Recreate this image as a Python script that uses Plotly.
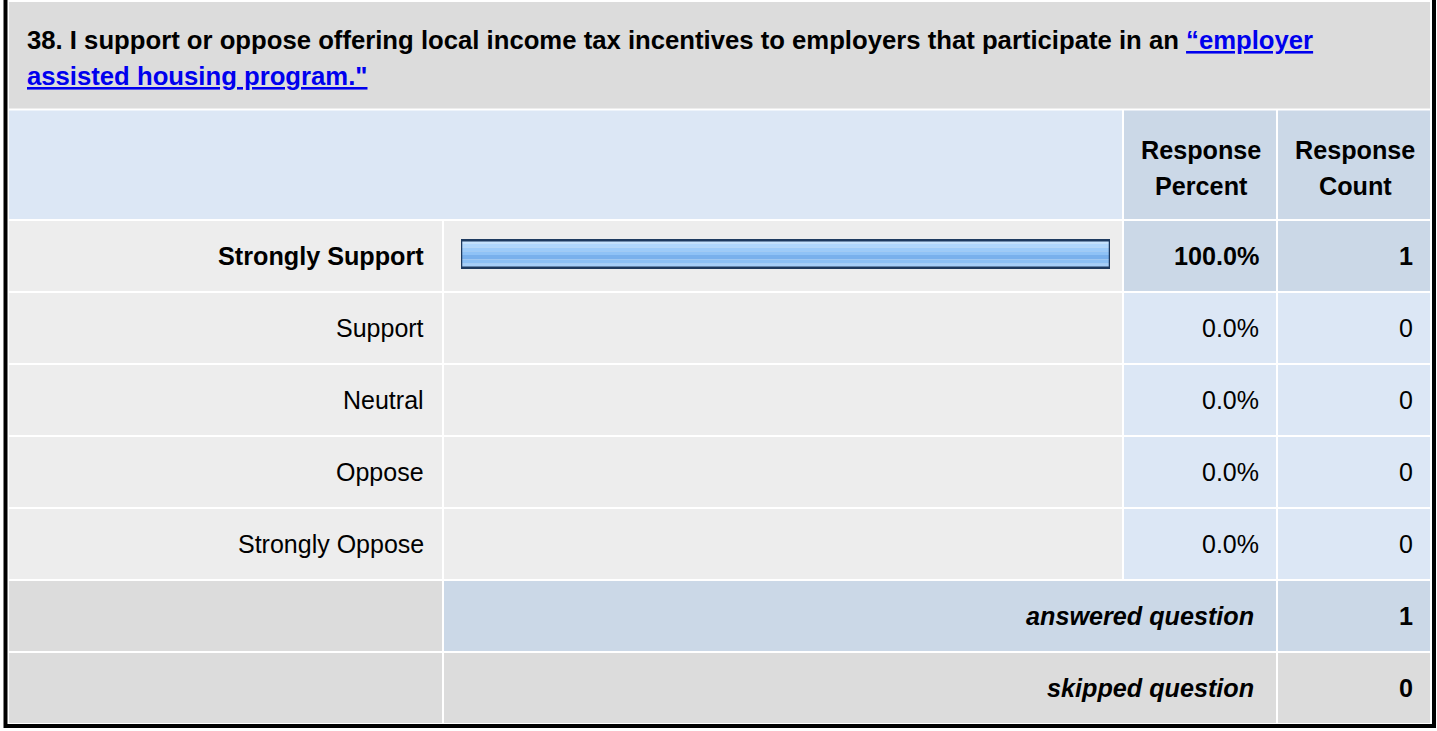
import plotly.graph_objects as go

# ------------------------------------------------------------------
# Survey data (question 38)
question_text = "38. I support or oppose offering local income tax incentives to employers that participate in an"
link_line1 = "“employer"
link_line2 = "assisted housing program.\""
answers = ["Strongly Support", "Support", "Neutral", "Oppose", "Strongly Oppose"]
percents = [100.0, 0.0, 0.0, 0.0, 0.0]
counts = [1, 0, 0, 0, 0]
header_pct = ["Response", "Percent"]
header_cnt = ["Response", "Count"]
answered_label = "answered question"
skipped_label = "skipped question"
answered = 1
skipped = 0

# ------------------------------------------------------------------
W, H = 1437, 731
FONT = "Liberation Sans, Arial, sans-serif"
FS = 25
FS_B = 25.2
FS_T = 25.7

GREY = "#dcdcdc"
ROW = "#ededed"
LBLUE = "#dce7f5"
DBLUE = "#cbd8e7"


def px(x):
    return x / W


def py(y):
    return 1 - y / H


# table grid in pixels
COL_LABEL = (9, 442)
COL_BAR = (444, 1122)
COL_PCT = (1124, 1276)
COL_CNT = (1278, 1430)
ROW_TITLE = (2, 108.5)
ROW_HEAD = (110.5, 219)
ROW0 = 221
ROW_H = 70
ROW_STEP = 72

shapes = []


def cell(x0, x1, y0, y1, color):
    shapes.append(dict(type="rect", xref="paper", yref="paper",
                       x0=px(x0), x1=px(x1), y0=py(y1), y1=py(y0),
                       fillcolor=color, line=dict(width=0), layer="below"))


annotations = []


def text(x, y, s, anchor="right", bold=False, italic=False, size=None, color="#000000"):
    if size is None:
        size = FS_B if bold else FS
    if bold:
        s = "<b>" + s + "</b>"
    if italic:
        s = "<i>" + s + "</i>"
    annotations.append(dict(x=px(x), y=py(y), xref="paper", yref="paper",
                            text=s, showarrow=False, xanchor=anchor, yanchor="middle",
                            font=dict(family=FONT, size=size, color=color)))


# title block
cell(COL_LABEL[0], COL_CNT[1], *ROW_TITLE, GREY)
link = '<span style="color:#0000ee"><u>%s</u></span>'
text(25, 40, question_text + " " + link % link_line1, anchor="left", bold=True, size=FS_T)
text(25, 76, link % link_line2, anchor="left", bold=True, size=FS_T)

# header row
cell(COL_LABEL[0], COL_BAR[1], *ROW_HEAD, LBLUE)
cell(*COL_PCT, *ROW_HEAD, DBLUE)
cell(*COL_CNT, *ROW_HEAD, DBLUE)
text(1201, 150, header_pct[0], anchor="center", bold=True)
text(1201, 186, header_pct[1], anchor="center", bold=True)
text(1355, 150, header_cnt[0], anchor="center", bold=True)
text(1355, 186, header_cnt[1], anchor="center", bold=True)

# answer rows
top = max(percents)
for i, (a, p, c) in enumerate(zip(answers, percents, counts)):
    y0 = ROW0 + ROW_STEP * i
    y1 = y0 + ROW_H
    ym = (y0 + y1) / 2
    hi = p == top and p > 0
    cell(*COL_LABEL, y0, y1, ROW)
    cell(*COL_BAR, y0, y1, ROW)
    cell(*COL_PCT, y0, y1, DBLUE if hi else LBLUE)
    cell(*COL_CNT, y0, y1, DBLUE if hi else LBLUE)
    text(426, ym, a, bold=hi)
    text(1261, ym, "%.1f%%" % p, bold=hi)
    text(1415, ym, str(c), bold=hi)

# summary rows
ya0 = ROW0 + ROW_STEP * len(answers)
cell(*COL_LABEL, ya0, ya0 + ROW_H, GREY)
cell(COL_BAR[0], COL_PCT[1], ya0, ya0 + ROW_H, DBLUE)
cell(*COL_CNT, ya0, ya0 + ROW_H, DBLUE)
text(1256, ya0 + ROW_H / 2, answered_label, bold=True, italic=True)
text(1415, ya0 + ROW_H / 2, str(answered), bold=True)

ys0 = ya0 + ROW_STEP
cell(*COL_LABEL, ys0, ys0 + ROW_H, GREY)
cell(COL_BAR[0], COL_PCT[1], ys0, ys0 + ROW_H, GREY)
cell(*COL_CNT, ys0, ys0 + ROW_H, GREY)
text(1256, ys0 + ROW_H / 2, skipped_label, bold=True, italic=True)
text(1415, ys0 + ROW_H / 2, str(skipped), bold=True)

# outer frame
shapes.append(dict(type="rect", xref="paper", yref="paper",
                   x0=px(5.5), x1=px(1434), y0=py(726), y1=py(-10),
                   line=dict(color="#000000", width=4), fillcolor="rgba(0,0,0,0)"))

# ------------------------------------------------------------------
# bars: stacked stripes fake the glossy gradient, outline on top
fig = go.Figure()
bar_w = 0.38
stripes = [(0.00, 0.12, "#c6e3ff"), (0.12, 0.26, "#b0d7fd"), (0.26, 0.40, "#9dcbf9"),
           (0.40, 0.54, "#8fc2f6"), (0.54, 0.70, "#79b0ec"), (0.70, 0.86, "#8cc0f5"),
           (0.86, 1.00, "#a6cff9")]
for f0, f1, col in stripes:
    fig.add_trace(go.Bar(x=percents, y=answers, orientation="h",
                         width=(f1 - f0) * bar_w, offset=-bar_w / 2 + f0 * bar_w,
                         marker=dict(color=col, line=dict(width=0)),
                         hoverinfo="skip", showlegend=False))
fig.add_trace(go.Bar(x=percents, y=answers, orientation="h",
                     width=bar_w, offset=-bar_w / 2,
                     marker=dict(color="rgba(0,0,0,0)",
                                 line=dict(color="#1e3a5f",
                                           width=[2.5 if p > 0 else 0 for p in percents])),
                     hoverinfo="skip", showlegend=False))

# y axis: 5 rows of 72px, first row centred at 254px
fig.update_layout(
    width=W, height=H, autosize=False,
    margin=dict(l=0, r=0, t=0, b=0),
    paper_bgcolor="white", plot_bgcolor="rgba(0,0,0,0)",
    barmode="overlay",
    xaxis=dict(domain=[px(461), px(1110)], range=[0, 100], visible=False, fixedrange=True),
    yaxis=dict(domain=[py(218 + ROW_STEP * 5), py(218)], type="category",
               categoryorder="array", categoryarray=answers,
               range=[len(answers) - 0.5, -0.5], visible=False, fixedrange=True),
    shapes=shapes,
    annotations=annotations,
    hovermode=False,
)

fig.write_html("out.html", config={"displayModeBar": False},
               post_script="document.body.style.margin='0';document.body.style.overflow='hidden';")
